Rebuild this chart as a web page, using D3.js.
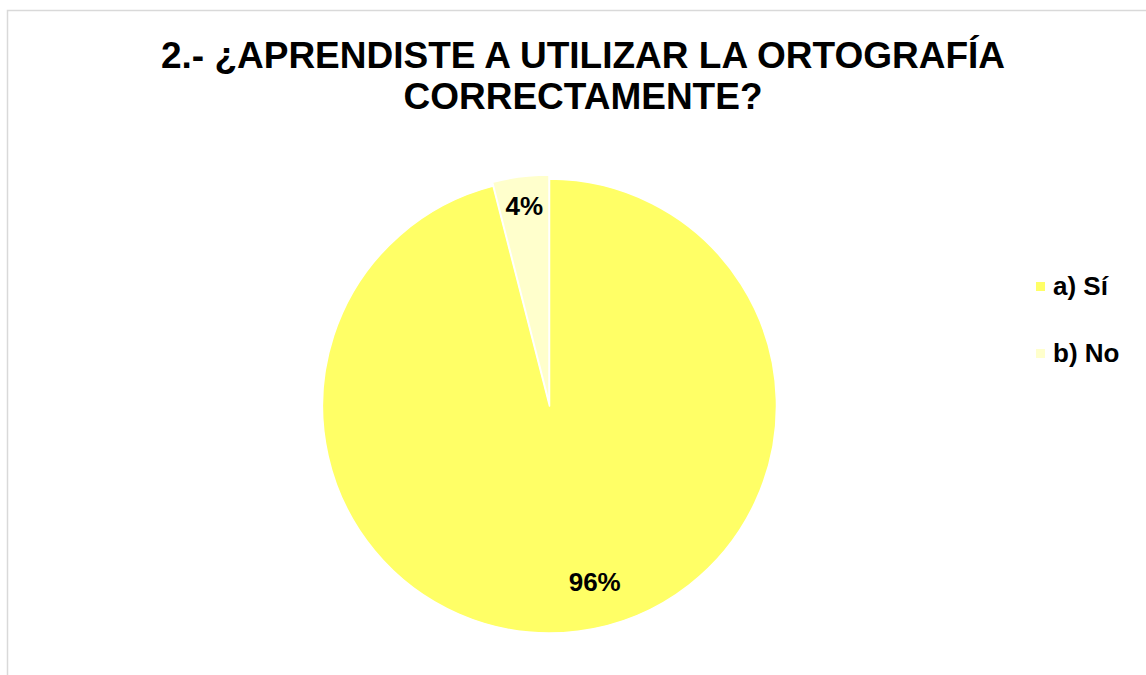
<!DOCTYPE html>
<html>
<head>
<meta charset="utf-8">
<script src="https://cdn.jsdelivr.net/npm/d3@7"></script>
<style>
  html, body { margin: 0; padding: 0; background: #fff; }
  svg { display: block; font-family: "Liberation Sans", Arial, sans-serif; }
</style>
</head>
<body>
<div id="chart"></div>
<script>
// Data
var categories = ["a) Sí", "b) No"];
var values = [96, 4];           // percent of answers
var labels = ["96%", "4%"];
var colors = ["#ffff66", "#ffffcc"];
var titleLines = ["2.- ¿APRENDISTE A UTILIZAR LA ORTOGRAFÍA", "CORRECTAMENTE?"];

var width = 1146, height = 675;
var cx = 549.5, cy = 406, radius = 227;

var svg = d3.select("#chart").append("svg")
    .attr("width", width)
    .attr("height", height);

// chart area frame (only left & top edges visible)
svg.append("rect")
    .attr("x", 7.5)
    .attr("y", 10.5)
    .attr("width", width + 20)
    .attr("height", height + 20)
    .style("fill", "none")
    .style("stroke", "#d9d9d9")
    .style("stroke-width", 1.5);

// Title
svg.append("g")
    .attr("class", "title")
  .selectAll("text")
  .data(titleLines)
  .enter().append("text")
    .attr("x", 583)
    .attr("y", function(d, i) { return 68 + i * 41; })
    .attr("text-anchor", "middle")
    .style("font-size", "37px")
    .style("font-weight", "bold")
    .style("fill", "#000")
    .text(function(d) { return d; });

var pie = d3.pie().sort(null).value(function(d) { return d; });
var arcs = pie(values);

var arc = d3.arc().innerRadius(0).outerRadius(radius);

// exploded distance per slice (the small "No" slice is pulled out a little)
var explode = [0, 4];
var labelRadius = [0.78, 0.87];
var labelNudge = [23, 0];

function offset(d, i) {
  var a = (d.startAngle + d.endAngle) / 2;
  return [Math.sin(a) * explode[i], -Math.cos(a) * explode[i]];
}

var gPie = svg.append("g")
    .attr("transform", "translate(" + cx + "," + cy + ")");

gPie.selectAll("path")
  .data(arcs)
  .enter().append("path")
    .attr("transform", function(d, i) { var o = offset(d, i); return "translate(" + o[0] + "," + o[1] + ")"; })
    .attr("d", arc)
    .style("fill", function(d, i) { return colors[i]; })
    .style("stroke", "#fff")
    .style("stroke-width", 1.5)
    .style("stroke-linejoin", "round");

// Data labels
gPie.selectAll("text.label")
  .data(arcs)
  .enter().append("text")
    .attr("class", "label")
    .attr("transform", function(d, i) {
      var r = radius * labelRadius[i];
      var la = d3.arc().innerRadius(r).outerRadius(r);
      var c = la.centroid(d), o = offset(d, i);
      return "translate(" + (c[0] + o[0] + labelNudge[i]) + "," + (c[1] + o[1]) + ")";
    })
    .attr("dy", "0.35em")
    .attr("text-anchor", "middle")
    .style("font-size", "26px")
    .style("font-weight", "bold")
    .style("fill", "#000")
    .text(function(d, i) { return labels[i]; });

// Legend
var legend = svg.append("g")
    .attr("class", "legend")
  .selectAll("g")
  .data(categories)
  .enter().append("g")
    .attr("transform", function(d, i) { return "translate(1036," + (282 + i * 67) + ")"; });

legend.append("rect")
    .attr("width", 9)
    .attr("height", 9)
    .style("fill", function(d, i) { return colors[i]; });

legend.append("text")
    .attr("x", 17)
    .attr("y", 13)
    .style("font-size", "26px")
    .style("font-weight", "bold")
    .style("fill", "#000")
    .text(function(d) { return d; });
</script>
</body>
</html>
